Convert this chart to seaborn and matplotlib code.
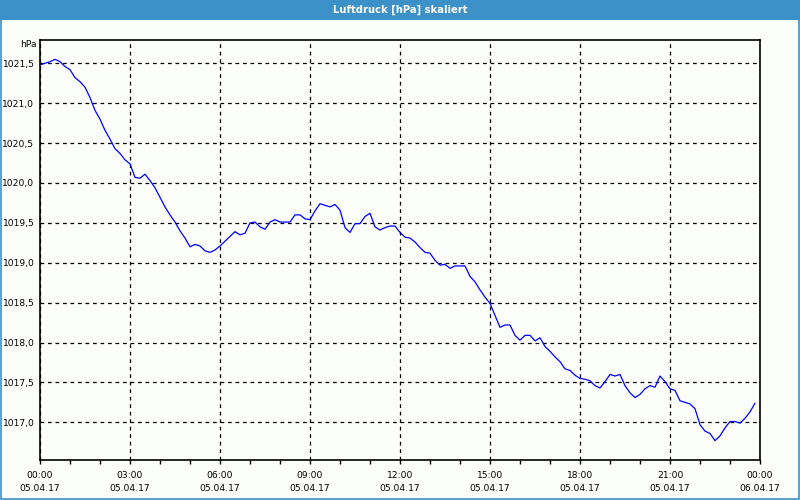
import pandas as pd
import matplotlib
matplotlib.use("Agg")
import matplotlib.pyplot as plt
import matplotlib.dates as mdates
from matplotlib.ticker import FuncFormatter, MultipleLocator
from matplotlib.patches import Rectangle
import seaborn as sns

# 10-minute readings, 05.04.17 00:00 .. 23:50
start_time = "2017-04-05 00:00"
pressure = [
    1021.48, 1021.50, 1021.52, 1021.55, 1021.52, 1021.46, 1021.42, 1021.32, 1021.27, 1021.20,
    1021.07, 1020.91, 1020.80, 1020.66, 1020.55, 1020.43, 1020.37, 1020.29, 1020.24, 1020.07,
    1020.06, 1020.11, 1020.03, 1019.94, 1019.82, 1019.70, 1019.60, 1019.51, 1019.40, 1019.31,
    1019.20, 1019.23, 1019.21, 1019.15, 1019.13, 1019.16, 1019.21, 1019.27, 1019.33, 1019.39,
    1019.35, 1019.37, 1019.50, 1019.51, 1019.45, 1019.42, 1019.51, 1019.54, 1019.51, 1019.51,
    1019.51, 1019.60, 1019.60, 1019.55, 1019.54, 1019.65, 1019.74, 1019.72, 1019.70, 1019.73,
    1019.66, 1019.44, 1019.38, 1019.49, 1019.49, 1019.58, 1019.62, 1019.45, 1019.41, 1019.44,
    1019.46, 1019.46, 1019.38, 1019.32, 1019.31, 1019.26, 1019.19, 1019.13, 1019.12, 1019.03,
    1018.97, 1018.98, 1018.93, 1018.96, 1018.96, 1018.96, 1018.83, 1018.76, 1018.66, 1018.57,
    1018.49, 1018.34, 1018.19, 1018.22, 1018.22, 1018.09, 1018.03, 1018.09, 1018.09, 1018.02,
    1018.06, 1017.95, 1017.89, 1017.82, 1017.76, 1017.67, 1017.65, 1017.59, 1017.55, 1017.54,
    1017.52, 1017.46, 1017.43, 1017.51, 1017.60, 1017.58, 1017.60, 1017.46, 1017.37, 1017.31,
    1017.35, 1017.42, 1017.46, 1017.44, 1017.58, 1017.51, 1017.42, 1017.40, 1017.27, 1017.25,
    1017.23, 1017.17, 1016.97, 1016.89, 1016.86, 1016.77, 1016.83, 1016.93, 1017.01, 1017.01,
    1016.99, 1017.05, 1017.13, 1017.24,
]
times = pd.date_range(start_time, periods=len(pressure), freq="10min")
df = pd.DataFrame({"time": times, "hPa": pressure})

sns.set_theme(style="white")
plt.rcParams["font.family"] = ["DejaVu Sans"]

bg = "#fcfefc"
bar_blue = "#3c91c8"

fig = plt.figure(figsize=(8, 5), dpi=100)
fig.patch.set_facecolor(bg)
ax = fig.add_axes([0.05, 0.08, 0.90, 0.84])
ax.set_facecolor(bg)

sns.lineplot(data=df, x="time", y="hPa", color="#0000ff", linewidth=0.9, ax=ax)

ax.set_xlim(pd.Timestamp("2017-04-05 00:00"), pd.Timestamp("2017-04-06 00:00"))
ax.set_ylim(1016.5275, 1021.792)

ax.xaxis.set_major_locator(mdates.HourLocator(byhour=range(0, 24, 3)))
ax.xaxis.set_minor_locator(mdates.HourLocator())
ax.xaxis.set_major_formatter(mdates.DateFormatter("%H:%M\n%d.%m.%y"))
ax.yaxis.set_major_locator(MultipleLocator(0.5))
ax.yaxis.set_major_formatter(FuncFormatter(lambda v, p: f"{v:.1f}".replace(".", ",")))

ax.tick_params(axis="x", which="both", direction="out", length=3, width=1,
               color="black", labelsize=6.6, labelcolor="black", pad=5, bottom=True)
ax.tick_params(axis="y", length=0, labelsize=6.6, labelcolor="black", pad=4)
ax.set_xlabel("")
ax.set_ylabel("")

ax.grid(True, which="major", color="black", linestyle=(0, (3, 3)), linewidth=0.9)
for s in ax.spines.values():
    s.set_color("black")
    s.set_linewidth(1.2)

ax.text(-0.004, 1.0, "hPa", transform=ax.transAxes, ha="right", va="top",
        fontsize=6.6, color="black")

# title bar and window frame
fig.patches.append(Rectangle((0, 0.96), 1, 0.04, transform=fig.transFigure,
                             facecolor=bar_blue, edgecolor="none", zorder=0))
fig.patches.append(Rectangle((0.0008, 0.002), 0.9984, 0.96, transform=fig.transFigure,
                             facecolor="none", edgecolor=bar_blue, linewidth=1.2, zorder=0))
fig.text(0.5, 0.98, "Luftdruck [hPa] skaliert", ha="center", va="center",
         color="white", fontsize=7.2, fontweight="bold")

fig.canvas.draw()
for lab in ax.get_xticklabels():
    lab.set_linespacing(1.6)

plt.savefig("out.png", dpi=100, facecolor=fig.get_facecolor())
plt.close()
